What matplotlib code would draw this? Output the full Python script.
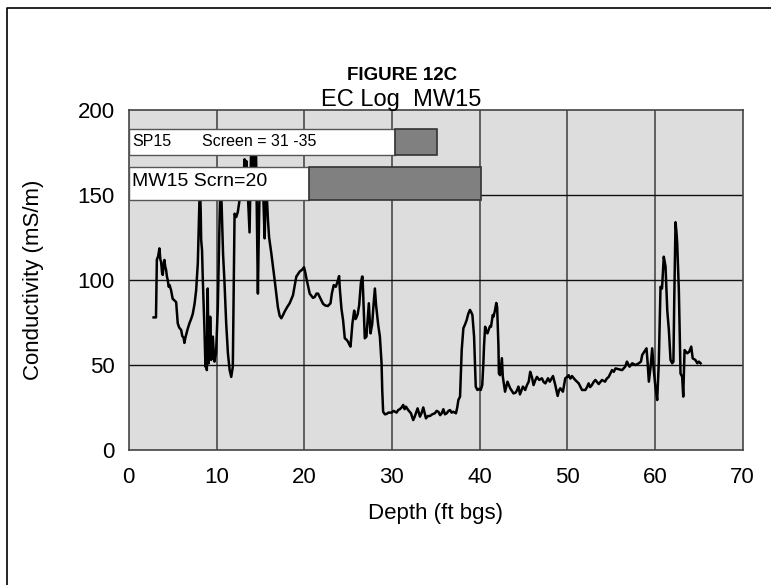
import matplotlib
matplotlib.use("Agg")
import matplotlib.pyplot as plt
from matplotlib.lines import Line2D

plt.rcParams['font.family'] = ['Liberation Sans', 'DejaVu Sans']

# EC log trace: depth (ft bgs) and conductivity (mS/m)
depth = [
    2.83, 3.1, 3.2, 3.35, 3.49, 3.6, 3.68, 3.8, 3.87, 4.0, 4.06, 4.15, 4.25, 4.35, 4.44,
    4.55, 4.65, 4.82, 5.0, 5.2, 5.4, 5.5, 5.58, 5.75, 5.97, 6.1, 6.25, 6.34, 6.45, 6.53,
    6.7, 6.91, 7.1, 7.29, 7.5, 7.68, 7.87, 7.97, 8.06, 8.12, 8.2, 8.25, 8.35, 8.44, 8.63,
    8.74, 8.82, 8.9, 9.0, 9.1, 9.2, 9.28, 9.4, 9.5, 9.58, 9.68, 9.77, 9.87, 9.95, 10.15,
    10.34, 10.45, 10.55, 10.75, 10.9, 11.1, 11.3, 11.5, 11.68, 11.86, 12.06, 12.25, 12.43,
    12.6, 12.75, 12.9, 13.05, 13.2, 13.3, 13.4, 13.58, 13.77, 13.9, 13.96, 14.05, 14.15,
    14.2, 14.3, 14.4, 14.5, 14.6, 14.72, 14.8, 14.9, 15.1, 15.3, 15.49, 15.6, 15.75, 15.87,
    16.0, 16.25, 16.63, 17.0, 17.2, 17.39, 17.55, 17.77, 18.05, 18.34, 18.72, 19.1, 19.49,
    19.75, 19.98, 20.1, 20.25, 20.63, 21.0, 21.2, 21.4, 21.58, 21.77, 22.15, 22.4, 22.7,
    23.0, 23.15, 23.37, 23.6, 23.8, 23.98, 24.06, 24.25, 24.43, 24.63, 24.8, 25.0, 25.15,
    25.28, 25.5, 25.7, 25.85, 25.96, 26.1, 26.27, 26.46, 26.6, 26.65, 26.8, 26.91, 27.1,
    27.37, 27.56, 27.75, 27.9, 28.06, 28.2, 28.44, 28.63, 28.82, 28.9, 29.0, 29.2, 29.39,
    29.6, 29.96, 30.2, 30.53, 30.72, 30.9, 31.1, 31.29, 31.45, 31.6, 31.86, 32.17, 32.43,
    32.6, 32.93, 33.2, 33.4, 33.58, 33.88, 34.1, 34.34, 34.6, 34.9, 35.1, 35.3, 35.5,
    35.68, 35.87, 36.05, 36.25, 36.45, 36.63, 36.8, 37.0, 37.3, 37.45, 37.58, 37.77, 37.96,
    38.15, 38.35, 38.53, 38.7, 38.9, 39.05, 39.18, 39.37, 39.56, 39.75, 39.95, 40.13, 40.3,
    40.43, 40.5, 40.63, 40.75, 40.9, 41.05, 41.2, 41.3, 41.5, 41.58, 41.75, 41.9, 42.0,
    42.15, 42.2, 42.34, 42.54, 42.65, 42.9, 43.18, 43.49, 43.86, 44.1, 44.25, 44.43, 44.6,
    44.94, 45.2, 45.4, 45.6, 45.77, 45.96, 46.15, 46.35, 46.54, 46.8, 47.1, 47.3, 47.5,
    47.8, 48.0, 48.2, 48.37, 48.63, 48.9, 49.05, 49.2, 49.5, 49.77, 50.0, 50.15, 50.35,
    50.53, 50.9, 51.3, 51.68, 52.06, 52.25, 52.43, 52.6, 52.8, 53.0, 53.2, 53.58, 53.96,
    54.3, 54.5, 54.72, 55.1, 55.3, 55.5, 55.86, 56.25, 56.6, 56.8, 57.1, 57.4, 57.77,
    58.15, 58.4, 58.54, 58.8, 59.03, 59.15, 59.3, 59.5, 59.68, 59.86, 60.05, 60.25, 60.43,
    60.63, 60.8, 61.0, 61.2, 61.4, 61.58, 61.77, 61.96, 62.1, 62.2, 62.34, 62.45, 62.53,
    62.72, 62.91, 63.1, 63.22, 63.37, 63.68, 63.9, 64.13, 64.3, 64.6, 64.83, 65.0, 65.2,
]
conductivity = [
    78, 78, 112, 114, 118.6, 112, 110.8, 104, 103, 110, 111.8, 108, 106, 102, 100,
    96, 97, 94, 89, 88, 87, 80, 74.5, 72, 70.6, 67, 66, 63, 66, 67.6,
    71, 74.5, 77, 80, 86, 94, 110, 130, 148, 155, 140, 123.5, 117.6, 100, 70.6,
    49, 52, 47, 95, 51, 58, 78.4, 53, 60, 66.7, 58, 52, 55, 56.9, 84,
    133, 158, 150, 115, 100, 75, 57, 47, 43, 49, 139, 137, 140,
    146, 155, 162, 158, 171, 163, 170, 150, 128, 165, 178, 160, 150,
    180, 168, 160, 178, 140, 92, 120, 150, 165, 155, 124.5, 150, 148, 135,
    125, 115.7, 100, 84, 79, 77.5, 79, 81.4, 84, 86.3, 91, 102, 105,
    106, 107.5, 105, 101, 92, 89.5, 90, 92, 92, 90, 86, 85, 84.7,
    86.3, 92, 97, 96, 99, 102.3, 95, 83, 76.5, 65.7, 65, 63.7, 62,
    60.8, 74.5, 82, 77, 78, 80, 85.3, 98, 102, 102, 80, 65.7, 66.7,
    86.3, 68.6, 74, 85, 95, 85, 73.5, 66.7, 51, 35, 22.5, 21, 21.2,
    22, 22, 23, 22, 23.5, 24, 25, 26.5, 24, 25.5, 23.5, 21.6, 17.6,
    19.6, 24.5, 19.6, 22, 25, 18.6, 20, 20, 21, 21.6, 23, 22.5, 20.5,
    21.6, 24, 21, 21.6, 23, 23.5, 22, 22.5, 21.6, 25, 29.4, 31.4, 58.8,
    71.6, 74, 76.5, 80, 82.4, 81, 79.4, 66.7, 37.3, 35.3, 36, 35.3, 38.2,
    51, 60.8, 72.5, 70, 68.6, 71, 72.9, 72.5, 79.4, 78.4, 82, 86.5, 84,
    60.8, 45, 44, 54, 43, 34.3, 40.2, 36.3, 33.3, 33.7, 35, 37.3, 32.7,
    37.3, 35.3, 38.2, 40.2, 46, 43, 38.2, 41, 43, 41.2, 42.2, 40, 39.2,
    42.2, 40.2, 42, 43.5, 38.2, 31.8, 35, 36.3, 34.3, 42.2, 43, 44, 42,
    43.5, 41.2, 39.2, 35.3, 35.3, 37, 39.2, 37, 38.2, 40, 41.2, 38.8, 41.2,
    40.2, 42, 43, 47, 46, 48, 47.5, 47, 49, 52, 49, 51, 50,
    51, 52, 55.9, 58, 59.8, 52, 40.2, 49, 59.8, 47, 37, 29.4, 51,
    96, 95, 113.7, 108, 82, 70.6, 53, 51, 52, 90, 134, 128, 121.6,
    94, 45, 43, 31.4, 58.8, 56.9, 57.8, 60.8, 53.9, 53, 51, 52, 51,
]

# Well screen intervals (depth ranges) shown as stacked bars
screen_labels = ["SP15", "MW15 Scrn=20"]
screen_notes = ["Screen = 31 -35", ""]
screen_top = [30.3, 20.5]      # white part: surface to top of screen
screen_bottom = [35.1, 40.2]   # grey part: screened interval end
bar_center = [181.0, 156.5]
bar_height = [15.2, 19.4]

x_ticks = [0, 10, 20, 30, 40, 50, 60, 70]
y_ticks = [0, 50, 100, 150, 200]

fig = plt.figure(figsize=(7.71, 5.85), dpi=100)
ax = fig.add_axes([128.8 / 771, 1 - 450 / 585, (742.7 - 128.8) / 771, (450 - 110) / 585])
ax.set_facecolor('#dddddd')

ax.set_xlim(0, 70)
ax.set_ylim(0, 200)
ax.set_xticks(x_ticks)
ax.set_yticks(y_ticks)
ax.tick_params(length=0, labelsize=16)
ax.tick_params(axis='x', pad=12)
ax.tick_params(axis='y', pad=10)

for x in x_ticks[1:-1]:
    ax.axvline(x, color='#555555', lw=1.3, zorder=1)
for y in y_ticks[1:-1]:
    ax.axhline(y, color='#111111', lw=1.0, zorder=1)

for s in ax.spines.values():
    s.set_color('#444444')
    s.set_linewidth(1.2)

ax.plot(depth, conductivity, color='black', lw=1.8, zorder=2)

# Screen bars
ax.barh(bar_center, screen_top, height=bar_height, left=0, color='white',
        edgecolor='#555555', lw=1.0, zorder=3)
widths = [b - t for t, b in zip(screen_top, screen_bottom)]
ax.barh(bar_center, widths, height=bar_height, left=screen_top, color='#808080',
        edgecolor='#333333', lw=1.2, zorder=3)

ax.text(0.4, bar_center[0] + 0.5, screen_labels[0], fontsize=11.5, va='center', ha='left', zorder=4)
ax.text(8.4, bar_center[0] + 0.5, screen_notes[0], fontsize=11.5, va='center', ha='left', zorder=4)
ax.text(0.4, bar_center[1] + 1.5, screen_labels[1], fontsize=14, va='center', ha='left', zorder=4)

ax.set_xlabel('Depth (ft bgs)', fontsize=16, labelpad=11)
ax.set_ylabel('Conductivity (mS/m)', fontsize=16, labelpad=24)

fig.text(402 / 771, 1 - 75 / 585, 'FIGURE 12C', fontsize=13.5, fontweight='bold', ha='center', va='center')
fig.text(401 / 771, 1 - 100 / 585, 'EC Log  MW15', fontsize=17, ha='center', va='center')

# Page frame (left and top edges)
fx = 7.3 / 771
fy = 1 - 8.3 / 585
fig.add_artist(Line2D([fx, fx, 1.0], [0.0, fy, fy], transform=fig.transFigure,
                      color='black', lw=1.2))

fig.savefig('out.png', dpi=100, facecolor='white')
